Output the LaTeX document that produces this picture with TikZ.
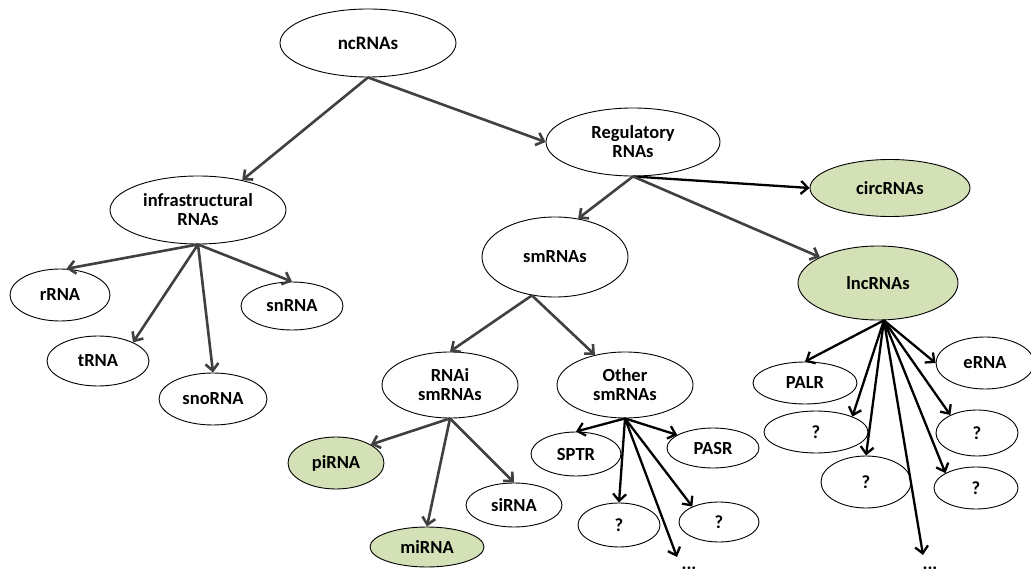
\documentclass[tikz,border=0pt]{standalone}
\usepackage{fontspec}
\setmainfont{Carlito}
\usetikzlibrary{shapes.geometric,arrows.meta}
\definecolor{grn}{RGB}{212,225,183}
\definecolor{arrgray}{RGB}{64,64,64}
\tikzset{
  ell/.style={draw=black, line width=0.9pt, ellipse, inner sep=0pt, fill=white, align=center,
              font=\bfseries\fontsize{18.5}{19}\selectfont},
  gell/.style={ell, fill=grn},
  gar/.style={draw=arrgray, line width=2.6pt, -{Straight Barb[length=7pt,width=13pt]}},
  bar/.style={draw=black, line width=2.3pt, -{Straight Barb[length=7pt,width=13pt]}},
  dotstxt/.style={inner sep=0pt, font=\bfseries\fontsize{18.5}{19}\selectfont}
}
\begin{document}
\begin{tikzpicture}[x=1pt,y=-1pt]
\useasboundingbox[fill=white] (0,0) rectangle (1031,569);
% nodes
\node[ell, minimum width=176pt, minimum height=68pt, font=\bfseries\fontsize{19}{20}\selectfont] (nc) at (368,43) {ncRNAs};
\node[ell, minimum width=176pt, minimum height=68pt] (infra) at (198,210) {infrastructural\\RNAs};
\node[ell, minimum width=174pt, minimum height=68pt] (reg) at (633,142) {Regulatory\\RNAs};
\node[gell, minimum width=160pt, minimum height=57pt] (circ) at (890,188) {circRNAs};
\node[ell, minimum width=146pt, minimum height=80pt] (sm) at (555,257) {smRNAs};
\node[gell, minimum width=160pt, minimum height=74pt] (lnc) at (878,283) {lncRNAs};
\node[ell, minimum width=100pt, minimum height=52pt] (rrna) at (60,295) {rRNA};
\node[ell, minimum width=102pt, minimum height=50pt] (trna) at (98,361) {tRNA};
\node[ell, minimum width=108pt, minimum height=52pt] (snorna) at (213,399) {snoRNA};
\node[ell, minimum width=102pt, minimum height=48pt] (snrna) at (292,306) {snRNA};
\node[ell, minimum width=136pt, minimum height=66pt] (rnai) at (450,385) {RNAi\\smRNAs};
\node[ell, minimum width=136pt, minimum height=66pt] (other) at (625,385) {Other\\smRNAs};
\node[gell, minimum width=96pt, minimum height=52pt] (pirna) at (336,463) {piRNA};
\node[gell, minimum width=114pt, minimum height=40pt] (mirna) at (427,547) {miRNA};
\node[ell, minimum width=96pt, minimum height=44pt] (sirna) at (514,505) {siRNA};
\node[ell, minimum width=90pt, minimum height=44pt] (sptr) at (576,454) {SPTR};
\node[ell, minimum width=82pt, minimum height=44pt] (qa) at (619,525) {?};
\node[ell, minimum width=92pt, minimum height=40pt] (pasr) at (713,448) {PASR};
\node[ell, minimum width=80pt, minimum height=40pt] (qb) at (719,522) {?};
\node[ell, minimum width=104pt, minimum height=42pt] (palr) at (805,383) {PALR};
\node[ell, minimum width=98pt, minimum height=52pt] (erna) at (985,363) {eRNA};
\node[ell, minimum width=104pt, minimum height=42pt] (qc) at (816,432) {?};
\node[ell, minimum width=90pt, minimum height=52pt] (qd) at (866,482) {?};
\node[ell, minimum width=82pt, minimum height=46pt] (qe) at (977,433) {?};
\node[ell, minimum width=84pt, minimum height=42pt] (qf) at (976,488) {?};
\node[dotstxt] (dotsa) at (689,568) {...};
\node[dotstxt] (dotsb) at (930,568) {...};
\coordinate (enda) at (677,557);
\coordinate (endb) at (923,555);
% connectors
\draw[gar] (nc.south) -- (infra.34);
\draw[gar] (nc.south) -- (reg.west);
\draw[bar] (reg.south) -- (circ.west);
\draw[gar] (reg.south) -- (sm.59);
\draw[gar] (reg.south) -- (lnc.156);
\draw[gar] (infra.south) -- (rrna.76);
\draw[gar] (infra.south) -- (trna.28);
\draw[gar] (infra.south) -- (snorna.north);
\draw[gar] (infra.south) -- (snrna.north);
\draw[gar] (sm.239) -- (rnai.north);
\draw[gar] (sm.239) -- (other.135);
\draw[gar] (rnai.south) -- (pirna.28);
\draw[gar] (rnai.south) -- (mirna.north);
\draw[gar] (rnai.south) -- (sirna.north);
\draw[bar] (other.south) -- (sptr.north);
\draw[bar] (other.south) -- (qa.north);
\draw[bar] (other.south) -- (pasr.160);
\draw[bar] (other.south) -- (qb.150);
\draw[bar] (other.south) -- (enda);
\draw[bar] (lnc.-81) -- (palr.north);
\draw[bar] (lnc.-81) -- (qc.23);
\draw[bar] (lnc.-81) -- (qd.north);
\draw[bar] (lnc.-81) -- (endb);
\draw[bar] (lnc.-81) -- (qf.154);
\draw[bar] (lnc.-81) -- (qe.146);
\draw[bar] (lnc.-81) -- (erna.west);
\end{tikzpicture}
\end{document}
